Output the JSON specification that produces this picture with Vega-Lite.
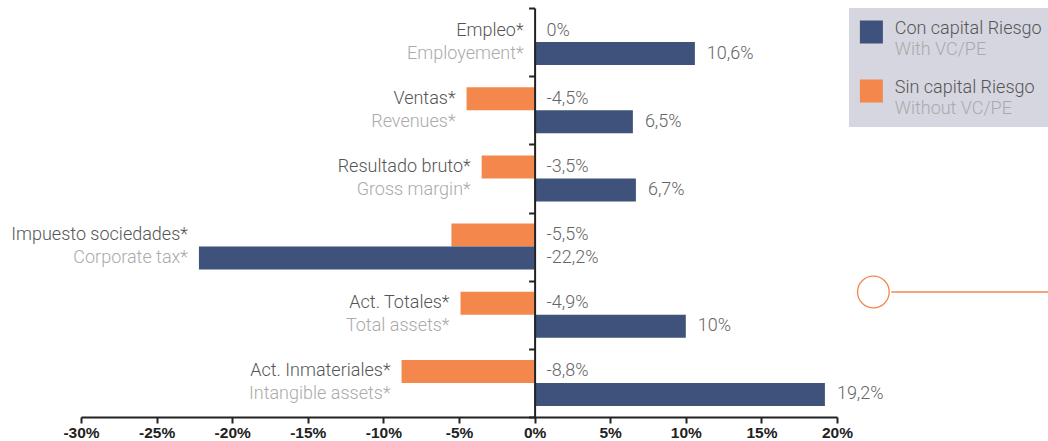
{
  "$schema": "https://vega.github.io/schema/vega-lite/v6.json",
  "padding": {"left": 11, "top": 7, "right": 0, "bottom": 0},
  "background": "white",
  "config": {"view": {"stroke": null}, "text": {"font": "Roboto", "fontWeight": 300, "fontSize": 18}},
  "datasets": {
    "bars": [
      {"cat_es": "Empleo*", "cat_en": "Employement*", "serie": "Sin", "value": 0, "label": "0%"},
      {"cat_es": "Empleo*", "cat_en": "Employement*", "serie": "Con", "value": 10.6, "label": "10,6%"},
      {"cat_es": "Ventas*", "cat_en": "Revenues*", "serie": "Sin", "value": -4.5, "label": "-4,5%"},
      {"cat_es": "Ventas*", "cat_en": "Revenues*", "serie": "Con", "value": 6.5, "label": "6,5%"},
      {"cat_es": "Resultado bruto*", "cat_en": "Gross margin*", "serie": "Sin", "value": -3.5, "label": "-3,5%"},
      {"cat_es": "Resultado bruto*", "cat_en": "Gross margin*", "serie": "Con", "value": 6.7, "label": "6,7%"},
      {"cat_es": "Impuesto sociedades*", "cat_en": "Corporate tax*", "serie": "Sin", "value": -5.5, "label": "-5,5%"},
      {"cat_es": "Impuesto sociedades*", "cat_en": "Corporate tax*", "serie": "Con", "value": -22.2, "label": "-22,2%"},
      {"cat_es": "Act. Totales*", "cat_en": "Total assets*", "serie": "Sin", "value": -4.9, "label": "-4,9%"},
      {"cat_es": "Act. Totales*", "cat_en": "Total assets*", "serie": "Con", "value": 10, "label": "10%"},
      {"cat_es": "Act. Inmateriales*", "cat_en": "Intangible assets*", "serie": "Sin", "value": -8.8, "label": "-8,8%"},
      {"cat_es": "Act. Inmateriales*", "cat_en": "Intangible assets*", "serie": "Con", "value": 19.2, "label": "19,2%"}
    ],
    "legend": [
      {"serie": "Con", "es": "Con capital Riesgo", "en": "With VC/PE"},
      {"serie": "Sin", "es": "Sin capital Riesgo", "en": "Without VC/PE"}
    ],
    "deco": [{"k": "circle"}]
  },
  "hconcat": [
    {
      "width": 756,
      "height": 409,
      "data": {"name": "bars"},
      "transform": [
        {"joinaggregate": [{"op": "min", "field": "value", "as": "minv"}], "groupby": ["cat_es"]},
        {"calculate": "min(datum.minv, 0)", "as": "lx"},
        {"calculate": "max(datum.value, 0)", "as": "vx"}
      ],
      "encoding": {
        "y": {
          "field": "cat_es", "type": "nominal",
          "sort": ["Empleo*", "Ventas*", "Resultado bruto*", "Impuesto sociedades*", "Act. Totales*", "Act. Inmateriales*"],
          "scale": {"paddingInner": 0, "paddingOuter": 0},
          "axis": {"orient": "left", "offset": -453.6, "labels": false, "title": null, "grid": false,
                   "domainColor": "#222222", "domainWidth": 2, "tickColor": "#222222", "tickWidth": 2,
                   "tickSize": 6, "tickBand": "extent", "zindex": 1}
        },
        "yOffset": {"field": "serie", "type": "nominal", "sort": ["Sin", "Con"],
                    "scale": {"paddingInner": 0, "paddingOuter": 0.483}}
      },
      "layer": [
        {
          "mark": {"type": "bar"},
          "encoding": {
            "x": {"field": "value", "type": "quantitative",
                  "scale": {"domain": [-30, 20], "nice": false},
                  "axis": {"values": [-30, -25, -20, -15, -10, -5, 0, 5, 10, 15, 20],
                           "labelExpr": "datum.value + '%'", "grid": false, "title": null,
                           "domainColor": "#222222", "domainWidth": 2, "tickColor": "#222222",
                           "tickWidth": 2, "tickSize": 6, "labelFont": "Liberation Sans",
                           "labelFontWeight": "bold", "labelFontSize": 15.5, "labelColor": "#222222",
                           "labelPadding": 2, "labelFlush": false, "labelOverlap": false, "zindex": 1}},
            "color": {"field": "serie", "type": "nominal",
                      "scale": {"domain": ["Con", "Sin"], "range": ["#3e527c", "#f3874c"]},
                      "legend": null}
          }
        },
        {
          "mark": {"type": "text", "align": "left", "baseline": "middle", "dx": 12, "color": "#666666"},
          "encoding": {
            "x": {"field": "vx", "type": "quantitative"},
            "text": {"field": "label"}
          }
        },
        {
          "transform": [{"filter": "datum.serie == 'Sin'"}],
          "mark": {"type": "text", "align": "right", "baseline": "middle", "dx": -11, "color": "#555555"},
          "encoding": {
            "x": {"field": "lx", "type": "quantitative"},
            "text": {"field": "cat_es"}
          }
        },
        {
          "transform": [{"filter": "datum.serie == 'Con'"}],
          "mark": {"type": "text", "align": "right", "baseline": "middle", "dx": -11, "color": "#aaaaaa"},
          "encoding": {
            "x": {"field": "lx", "type": "quantitative"},
            "text": {"field": "cat_en"}
          }
        }
      ]
    },
    {
      "spacing": 145,
      "vconcat": [
        {
          "width": 199,
          "height": 119,
          "view": {"fill": "#d6d6e0", "stroke": null},
          "data": {"name": "legend"},
          "encoding": {
            "y": {"field": "serie", "type": "nominal", "sort": ["Con", "Sin"],
                  "scale": {"range": [-5.5, 112.5], "paddingInner": 0, "paddingOuter": 0}, "axis": null}
          },
          "layer": [
            {
              "mark": {"type": "point", "shape": "square", "filled": true, "size": 529, "opacity": 1},
              "encoding": {
                "x": {"datum": 22.5, "type": "quantitative", "scale": {"domain": [0, 199]}, "axis": null},
                "color": {"field": "serie", "type": "nominal",
                          "scale": {"domain": ["Con", "Sin"], "range": ["#3e527c", "#f3874c"]}, "legend": null}
              }
            },
            {
              "mark": {"type": "text", "align": "left", "baseline": "middle", "dy": -3.5, "color": "#555555"},
              "encoding": {
                "x": {"datum": 46, "type": "quantitative"},
                "text": {"field": "es"}
              }
            },
            {
              "mark": {"type": "text", "align": "left", "baseline": "middle", "dy": 18, "color": "#aaaaaa"},
              "encoding": {
                "x": {"datum": 46, "type": "quantitative"},
                "text": {"field": "en"}
              }
            }
          ]
        },
        {
          "width": 199,
          "height": 40,
          "data": {"name": "deco"},
          "encoding": {
            "y": {"datum": 0.5, "type": "quantitative", "scale": {"domain": [0, 1]}, "axis": null}
          },
          "layer": [
            {
              "mark": {"type": "point", "shape": "circle", "filled": false, "size": 1001,
                       "stroke": "#f3874c", "strokeWidth": 1.3, "opacity": 1},
              "encoding": {
                "x": {"datum": 24.5, "type": "quantitative", "scale": {"domain": [0, 199]}, "axis": null}
              }
            },
            {
              "mark": {"type": "rule", "color": "#f3874c", "strokeWidth": 1.3},
              "encoding": {
                "x": {"datum": 42.5, "type": "quantitative"},
                "x2": {"datum": 200}
              }
            }
          ]
        }
      ]
    }
  ],
  "spacing": 12,
  "bounds": "flush"
}
